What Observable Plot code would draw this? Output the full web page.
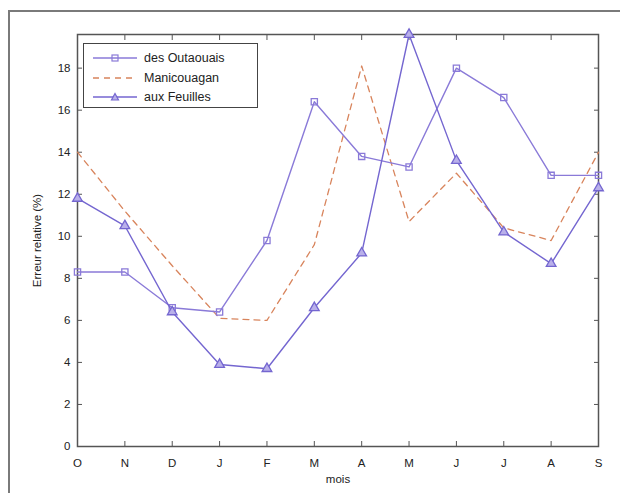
<!DOCTYPE html>
<html><head><meta charset="utf-8">
<script src="https://cdn.jsdelivr.net/npm/d3@7"></script>
<script src="https://cdn.jsdelivr.net/npm/@observablehq/plot@0.6"></script>
<style>
html,body{margin:0;padding:0;background:#fff;}
#wrap{position:relative;width:620px;height:493px;overflow:hidden;background:#fff;font-family:"Liberation Sans",Arial,sans-serif;}
#frame{position:absolute;left:8px;top:10px;width:700px;height:600px;border-top:2px solid #7a7a7a;border-left:2px solid #7a7a7a;}
#chart{position:absolute;left:0;top:0;}
#legend{position:absolute;left:83px;top:43px;width:173px;height:63px;border:1.5px solid #444;background:#fff;font-size:12.5px;color:#222;}
#legend .row{position:absolute;left:8px;height:18px;display:flex;align-items:center;}
#legend .row span{margin-left:6px;}
</style></head>
<body><div id="wrap"><div id="frame"></div><div id="chart"></div><div id="legend"></div></div>
<script>
const months = ["O","N","D","J","F","M","A","M","J","J","A","S"];
const seriesNames = ["des Outaouais","Manicouagan","aux Feuilles"];
const outaouais   = [8.3, 8.3, 6.6, 6.4, 9.8, 16.4, 13.8, 13.3, 18.0, 16.6, 12.9, 12.9];
const manicouagan = [14.0, 11.2, 8.6, 6.1, 6.0, 9.6, 18.1, 10.7, 13.0, 10.4, 9.8, 14.0];
const auxFeuilles = [11.8, 10.5, 6.4, 3.9, 3.7, 6.6, 9.2, 19.6, 13.6, 10.2, 8.7, 12.3];
const yTicks = [0,2,4,6,8,10,12,14,16,18];

const colOut = "#8a7ad8", colMan = "#d8845c", colAux = "#7466d0";
const toRows = (vals, name) => vals.map((v, i) => ({i, v, name}));
const dOut = toRows(outaouais, seriesNames[0]);
const dMan = toRows(manicouagan, seriesNames[1]);
const dAux = toRows(auxFeuilles, seriesNames[2]);
const idx = months.map((_, i) => i);
const blank = () => "";

const plot = Plot.plot({
  width: 620, height: 493,
  marginLeft: 77, marginRight: 22, marginTop: 34, marginBottom: 47,
  style: {fontFamily: "Liberation Sans, Arial, sans-serif", fontSize: "11.5px", color: "#222", background: "transparent"},
  x: {type: "linear", domain: [0, 11], ticks: idx, tickFormat: i => months[i]},
  y: {domain: [0, 19.6], ticks: yTicks},
  marks: [
    Plot.frame({stroke: "#555", strokeWidth: 1.5}),
    Plot.axisX(idx, {anchor: "bottom", tickSize: -5, tickPadding: 17, tickFormat: i => months[i], label: "mois", labelAnchor: "center", labelArrow: "none", labelOffset: 36, stroke: "#555"}),
    Plot.axisX(idx, {anchor: "top", tickSize: -5, tickFormat: blank, label: null, stroke: "#555"}),
    Plot.axisY(yTicks, {anchor: "left", tickSize: -5, tickPadding: 12, label: "Erreur relative (%)", labelAnchor: "center", labelArrow: "none", labelOffset: 45, stroke: "#555"}),
    Plot.axisY(yTicks, {anchor: "right", tickSize: -5, tickFormat: blank, label: null, stroke: "#555"}),
    Plot.line(dMan, {x: "i", y: "v", stroke: colMan, strokeWidth: 1.3, strokeDasharray: "6,5"}),
    Plot.line(dOut, {x: "i", y: "v", stroke: colOut, strokeWidth: 1.4}),
    Plot.dot(dOut, {x: "i", y: "v", symbol: "square", r: 3.5, stroke: colOut, fill: "none", strokeWidth: 1.3}),
    Plot.line(dAux, {x: "i", y: "v", stroke: colAux, strokeWidth: 1.4}),
    Plot.dot(dAux, {x: "i", y: "v", symbol: "triangle", r: 3.6, stroke: colAux, fill: "#b9b0ea", strokeWidth: 1.3})
  ]
});
document.getElementById("chart").appendChild(plot);

// legend
const leg = document.getElementById("legend");
const legendItems = [
  {name: seriesNames[0], color: colOut, dash: null, marker: "square"},
  {name: seriesNames[1], color: colMan, dash: "6,5", marker: null},
  {name: seriesNames[2], color: colAux, dash: null, marker: "triangle"}
];
legendItems.forEach((it, k) => {
  const row = document.createElement("div");
  row.className = "row";
  row.style.top = (5 + k * 19.5) + "px";
  let m = "";
  if (it.marker === "square") m = `<rect x="20" y="6" width="6" height="6" fill="none" stroke="${it.color}" stroke-width="1.2"/>`;
  if (it.marker === "triangle") m = `<path d="M23,5.5 L26.5,12 L19.5,12 Z" fill="#b9b0ea" stroke="${it.color}" stroke-width="1.2"/>`;
  row.innerHTML = `<svg width="46" height="18"><line x1="1" y1="9" x2="45" y2="9" stroke="${it.color}" stroke-width="1.3" ${it.dash ? `stroke-dasharray="${it.dash}"` : ""}/>${m}</svg><span>${it.name}</span>`;
  leg.appendChild(row);
});
</script></body></html>
